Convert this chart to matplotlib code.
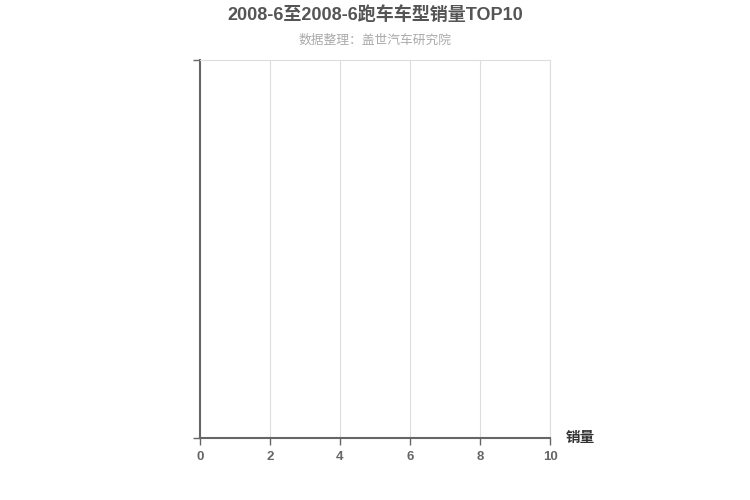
import matplotlib.pyplot as plt

# chart data (the reference shows an empty chart: no models listed)
models = []
sales = []
x_ticks = [0, 2, 4, 6, 8, 10]

title = "2008-6至2008-6跑车车型销量TOP10"
subtitle = "数据整理：盖世汽车研究院"

fonts = ["Liberation Sans", "Noto Sans CJK SC", "DejaVu Sans"]
plt.rcParams["font.family"] = fonts

fig = plt.figure(figsize=(7.5, 5), dpi=100)
ax = fig.add_axes([200 / 750, 1 - 438 / 500, 350 / 750, 378 / 500])

ax.barh(models, sales, color="#c23531")

ax.set_xlim(x_ticks[0], x_ticks[-1])
ax.set_ylim(0, 1)
ax.set_xticks(x_ticks)
ax.set_xticklabels([str(t) for t in x_ticks], color="#666666", fontsize=9.5, fontweight="bold")
ax.set_yticks([0, 1])
ax.set_yticklabels([])
ax.grid(axis="x", color="#dddddd", linewidth=0.8)
ax.set_axisbelow(True)

for side in ["right", "top"]:
    ax.spines[side].set_color("#dddddd")
    ax.spines[side].set_linewidth(0.8)
for side in ["left", "bottom"]:
    ax.spines[side].set_color("#666666")
    ax.spines[side].set_linewidth(1.5)
ax.tick_params(axis="x", length=5, width=1, color="#666666", pad=4)
ax.tick_params(axis="y", length=5, width=1, color="#666666")

ax.text(1.045, 0.0, "销量", transform=ax.transAxes, fontsize=10.5, fontweight="bold",
        color="#333333", ha="left", va="center")

fig.text(0.5, 1 - 15 / 500, title, ha="center", va="center", fontsize=13,
         fontweight="bold", color="#555555")
fig.text(0.5, 1 - 41 / 500, subtitle, ha="center", va="center", fontsize=9.2,
         color="#aaaaaa")

fig.savefig("out.png", dpi=100)
